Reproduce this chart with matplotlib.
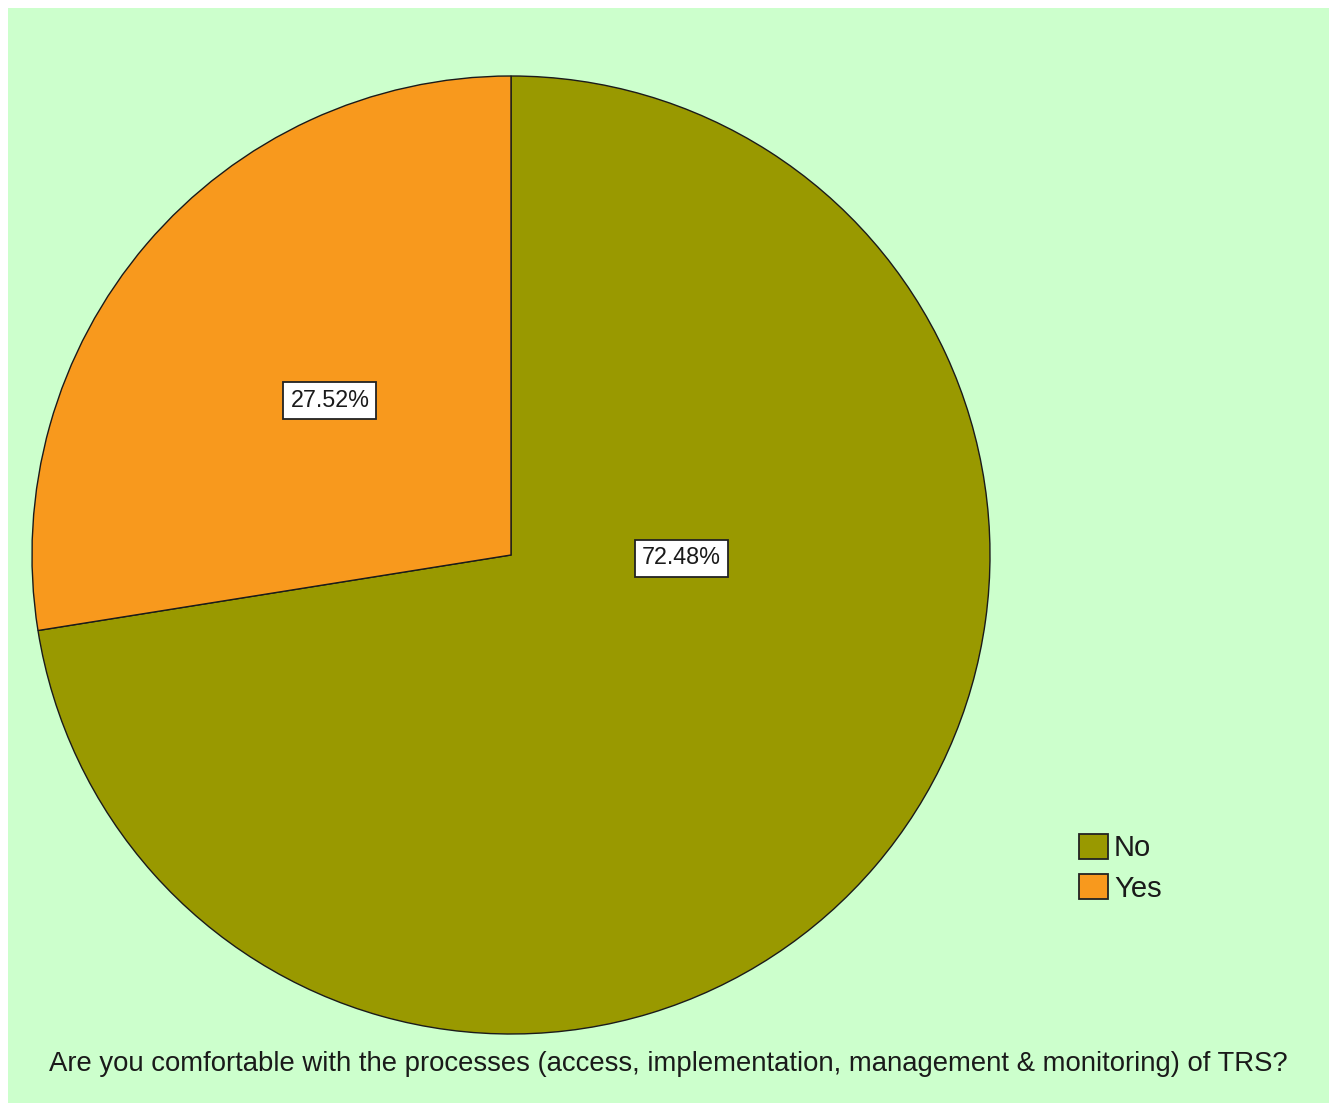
import matplotlib
matplotlib.use("Agg")
import matplotlib.pyplot as plt
from matplotlib.patches import Rectangle, Patch

categories = ["No", "Yes"]
values = [72.48, 27.52]
colors = ["#999900", "#F8991D"]
title = "Are you comfortable with the processes (access, implementation, management & monitoring) of TRS?"

FONT = ["Liberation Sans", "DejaVu Sans"]

W, H = 1329, 1103
fig = plt.figure(figsize=(W / 100, H / 100), dpi=100)
fig.patch.set_facecolor("white")
ax = fig.add_axes([0, 0, 1, 1])

ax.add_patch(Rectangle((8, 0), W - 8, H - 8, facecolor="#CCFFCC", edgecolor="none", zorder=0))

cx, cy, r = 511, H - 555, 479
wedges, texts, autotexts = ax.pie(
    values, colors=colors, startangle=90, counterclock=False,
    center=(cx, cy), radius=r, frame=True,
    autopct=lambda p: f"{p:.2f}%", pctdistance=0.497,
    wedgeprops=dict(edgecolor="#1a1a1a", linewidth=1.0),
    textprops=dict(fontsize=16.8, family=FONT, color="#1a1a1a"),
)
ax.set_xlim(0, W)
ax.set_ylim(0, H)
ax.set_aspect("equal")
ax.axis("off")
for t in autotexts:
    t.set_bbox(dict(boxstyle="square,pad=0.3", facecolor="white", edgecolor="#222222", linewidth=1.3))
autotexts[0].set_position((cx + 170, cy - 3))

handles = [Patch(facecolor=c, edgecolor="#222222", linewidth=1.3) for c in colors]
leg = ax.legend(handles, categories, loc="upper left",
                bbox_to_anchor=(1079 / W, 1 - 834 / H), frameon=False,
                prop=dict(family=FONT, size=21),
                handlelength=1.0, handleheight=0.93, handletextpad=0.2,
                labelspacing=0.4, borderpad=0, borderaxespad=0)
for txt in leg.get_texts():
    txt.set_color("#1a1a1a")

fig.text(668 / W, 39 / H, title, ha="center", va="center",
         fontsize=19.8, family=FONT, color="#1a1a1a")

fig.savefig("out.png", dpi=100, facecolor=fig.get_facecolor())
